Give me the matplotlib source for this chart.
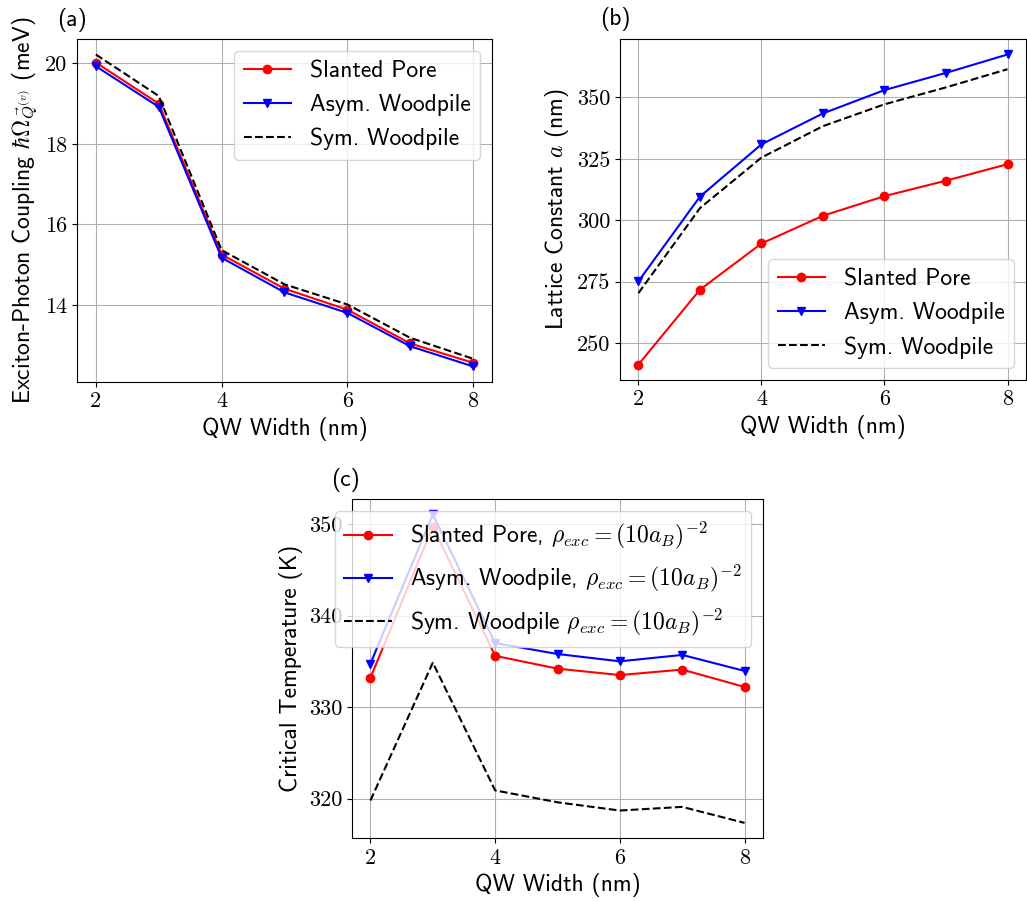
import matplotlib
matplotlib.use('Agg')
import matplotlib.pyplot as plt

# QW widths (nm)
qw_width = [2, 3, 4, 5, 6, 7, 8]

# (a) exciton-photon coupling (meV)
coupling_slanted = [20.02, 19.00, 15.25, 14.40, 13.88, 13.04, 12.56]
coupling_asym = [19.93, 18.92, 15.17, 14.31, 13.80, 12.97, 12.47]
coupling_sym = [20.22, 19.19, 15.36, 14.51, 14.01, 13.18, 12.66]

# (b) lattice constant (nm)
lattice_slanted = [241.2, 271.7, 290.5, 301.8, 309.8, 316.1, 322.8]
lattice_asym = [275.1, 309.6, 330.9, 343.5, 353.0, 360.0, 367.5]
lattice_sym = [270.3, 304.9, 325.5, 338.3, 347.2, 354.1, 361.5]

# (c) critical temperature (K)
tc_slanted = [333.2, 349.7, 335.6, 334.2, 333.5, 334.1, 332.2]
tc_asym = [334.75, 351.05, 337.0, 335.8, 335.0, 335.7, 333.95]
tc_sym = [319.8, 334.85, 320.9, 319.6, 318.7, 319.1, 317.35]

xticks = [2, 4, 6, 8]

matplotlib.rcParams.update({
    'font.family': 'cmss10',
    'mathtext.fontset': 'cm',
    'axes.unicode_minus': False,
    'font.size': 17,
    'legend.fontsize': 17,
})

fig = plt.figure(figsize=(10.27, 9.02), dpi=100)
ax1 = fig.add_axes([0.075, 0.5765, 0.404, 0.3803])
ax2 = fig.add_axes([0.6037, 0.5787, 0.3953, 0.3781])
ax3 = fig.add_axes([0.3425, 0.0706, 0.4007, 0.3762])


def style_ticks(ax):
    ax.set_xticks(xticks)
    ax.grid(True)
    for lbl in ax.get_xticklabels() + ax.get_yticklabels():
        lbl.set_fontfamily('cmr10')
        lbl.set_fontsize(16)


# (a)
ax1.plot(qw_width, coupling_slanted, 'o-', color='r', label='Slanted Pore')
ax1.plot(qw_width, coupling_asym, 'v-', color='b', label='Asym. Woodpile')
ax1.plot(qw_width, coupling_sym, '--', color='k', label='Sym. Woodpile')
ax1.set_yticks([14, 16, 18, 20])
style_ticks(ax1)
ax1.set_xlabel('QW Width (nm)')
ax1.set_ylabel(r'Exciton-Photon Coupling $\hbar\Omega_{\vec{Q}^{(v)}}$ (meV)')
ax1.legend(loc='upper right')
ax1.text(-0.048, 1.055, '(a)', transform=ax1.transAxes, va='center', ha='left')

# (b)
ax2.plot(qw_width, lattice_slanted, 'o-', color='r', label='Slanted Pore')
ax2.plot(qw_width, lattice_asym, 'v-', color='b', label='Asym. Woodpile')
ax2.plot(qw_width, lattice_sym, '--', color='k', label='Sym. Woodpile')
ax2.set_yticks([250, 275, 300, 325, 350])
style_ticks(ax2)
ax2.set_xlabel('QW Width (nm)')
ax2.set_ylabel(r'Lattice Constant $a$ (nm)')
ax2.legend(loc='lower right')
ax2.text(-0.05, 1.06, '(b)', transform=ax2.transAxes, va='center', ha='left')

# (c)
ax3.plot(qw_width, tc_slanted, 'o-', color='r',
         label=r'Slanted Pore, $\rho_{exc} = (10a_B)^{-2}$')
ax3.plot(qw_width, tc_asym, 'v-', color='b',
         label=r'Asym. Woodpile, $\rho_{exc} = (10a_B)^{-2}$')
ax3.plot(qw_width, tc_sym, '--', color='k',
         label=r'Sym. Woodpile $\rho_{exc} = (10a_B)^{-2}$')
ax3.set_yticks([320, 330, 340, 350])
style_ticks(ax3)
ax3.set_xlabel('QW Width (nm)')
ax3.set_ylabel('Critical Temperature (K)')
ax3.legend(loc='upper right')
ax3.text(-0.05, 1.055, '(c)', transform=ax3.transAxes, va='center', ha='left')

fig.savefig('out.png', dpi=100)
